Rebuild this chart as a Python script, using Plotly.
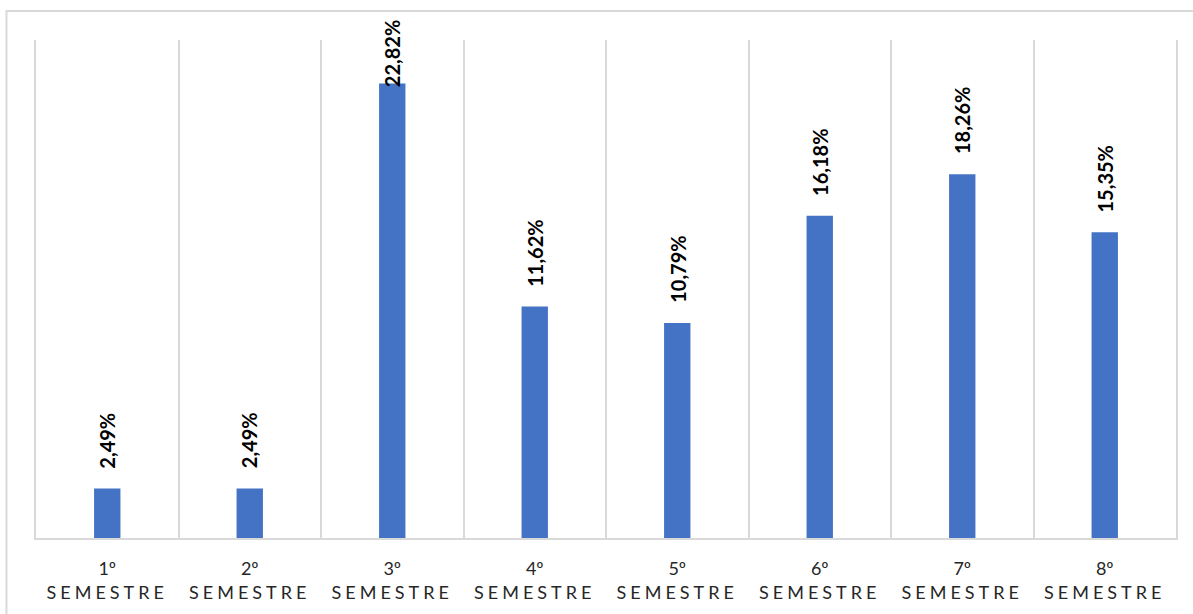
import plotly.graph_objects as go

# Share of students per semester (%)
semesters = ["1º", "2º", "3º", "4º", "5º", "6º", "7º", "8º"]
shares = [2.49, 2.49, 22.82, 11.62, 10.79, 16.18, 18.26, 15.35]

tick_text = [
    f'{s}<br><span style="letter-spacing:4px">SEMESTRE</span>' for s in semesters
]
label_text = [f"{v:.2f}%".replace(".", ",") for v in shares]

BAR_COLOR = "#4472C4"
GRID_COLOR = "#D9D9D9"
TEXT_COLOR = "#262626"
Y_MAX = 25

fig = go.Figure(
    go.Bar(
        x=semesters,
        y=shares,
        width=0.185,
        marker=dict(color=BAR_COLOR, line=dict(width=0)),
        hoverinfo="skip",
    )
)

# Rotated value labels above each bar; the tallest one is nudged down to stay in frame
for cat, v, txt in zip(semesters, shares, label_text):
    shift = 18 if v < 20 else -6
    fig.add_annotation(
        x=cat,
        y=v,
        text=f"<b>{txt}</b>",
        textangle=-90,
        showarrow=False,
        xanchor="center",
        yanchor="bottom",
        yshift=shift,
        font=dict(family="Lato", size=20, color="#000000"),
    )

# Outer chart frame
fig.add_shape(
    type="rect",
    xref="paper",
    yref="paper",
    x0=-0.0259,
    x1=1.03,
    y0=-0.2,
    y1=1.058,
    line=dict(color=GRID_COLOR, width=2),
    fillcolor="rgba(0,0,0,0)",
    layer="below",
)

fig.update_layout(
    width=1193,
    height=614,
    margin=dict(l=36, r=17, t=40, b=76),
    paper_bgcolor="white",
    plot_bgcolor="white",
    showlegend=False,
    font=dict(family="Lato", size=18, color=TEXT_COLOR),
    xaxis=dict(
        type="category",
        range=[-0.5, 7.5],
        tickmode="array",
        tickvals=semesters,
        ticktext=tick_text,
        tickson="boundaries",
        ticks="",
        ticklabelstandoff=14,
        showgrid=True,
        gridcolor=GRID_COLOR,
        gridwidth=1.5,
        showline=True,
        linecolor=GRID_COLOR,
        linewidth=1.5,
        tickfont=dict(family="Lato", size=18, color=TEXT_COLOR),
        fixedrange=True,
    ),
    yaxis=dict(
        range=[0, Y_MAX],
        showgrid=False,
        showticklabels=False,
        zeroline=False,
        showline=True,
        mirror=True,
        linecolor=GRID_COLOR,
        linewidth=1.5,
        ticks="",
        fixedrange=True,
    ),
)

fig.write_html("out.html")
